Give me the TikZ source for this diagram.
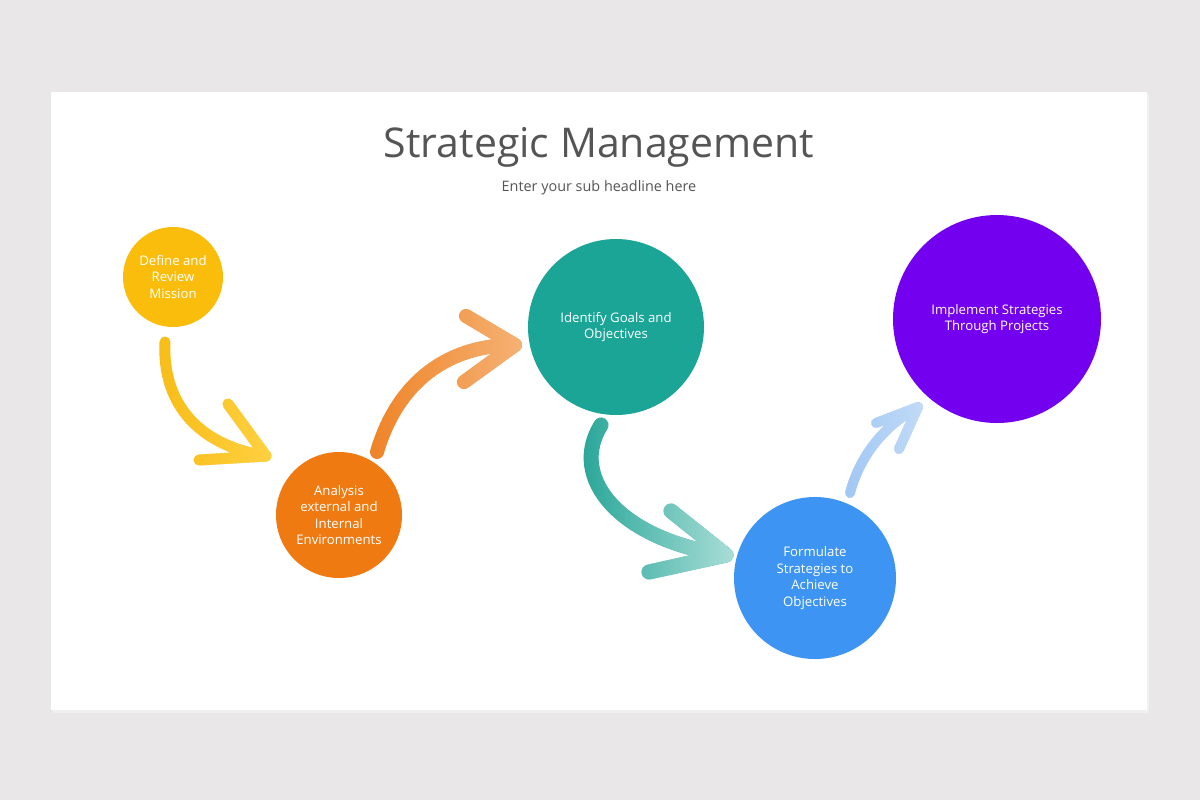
\documentclass[tikz,border=0pt]{standalone}
\usepackage{fontspec}
\setmainfont{Open Sans}
\usetikzlibrary{calc,fadings}
\definecolor{pagebg}{HTML}{E9E7E8}
\definecolor{titlegrey}{HTML}{555555}
\definecolor{missionC}{HTML}{FBBD0B}
\definecolor{analysisC}{HTML}{F07A12}
\definecolor{goalsC}{HTML}{1AA596}
\definecolor{strategiesC}{HTML}{3D94F2}
\definecolor{implementC}{HTML}{7300EF}
\definecolor{yelA}{HTML}{F8BD17}
\definecolor{yelB}{HTML}{FFD141}
\definecolor{oraA}{HTML}{EF8427}
\definecolor{oraB}{HTML}{F6B275}
\definecolor{tealA}{HTML}{189F91}
\definecolor{tealB}{HTML}{A9DED7}
\definecolor{bluA}{HTML}{A2C8F4}
\definecolor{bluB}{HTML}{C2DBF8}
\tikzfading[name=fadeR, left color=transparent!100, right color=transparent!0]
\tikzset{
	stage/.style={circle, inner sep=0pt, align=center, text=white, font=\fontsize{6.6}{8.3}\selectfont},
	brush/.style={line cap=round, line join=round, line width=#1},
	brushfade/.style={path fading=fadeR, fit fading=true},
}

\begin{document}
\begin{tikzpicture}[x=0.5pt, y=-0.5pt]
	\useasboundingbox (0,0) rectangle (1200,800);
	\fill[pagebg] (0,0) rectangle (1200,800);
	\fill[black!6] (53,94) rectangle (1149,713);
	\fill[white] (51,92) rectangle (1147,710);

	\node[text=titlegrey, anchor=base, font=\fontsize{20.5}{24}\selectfont] (title) at (599,157) {Strategic Management};
	\node[text=titlegrey, anchor=base, font=\fontsize{7.2}{9}\selectfont] (subtitle) at (599,191) {Enter your sub headline here};

	\node[stage, fill=missionC, minimum size=50pt] (mission) at (173,277) {Define and\\Review\\Mission};
	\node[stage, fill=analysisC, minimum size=63pt] (analysis) at (339,515) {Analysis\\external and\\Internal\\Environments};
	\node[stage, fill=goalsC, minimum size=88pt] (goals) at (616,327) {Identify Goals and\\Objectives};
	\node[stage, fill=strategiesC, minimum size=81pt] (strategies) at (815,578) {Formulate\\Strategies to\\Achieve\\Objectives};
	\node[stage, fill=implementC, minimum size=104pt] (implement) at (997,319) {Implement Strategies\\Through Projects};

	% arrow ends
	\coordinate (y0) at ($(mission)+(-8,65)$);
	\coordinate (y1) at ($(analysis)+(-73,-59)$);
	\coordinate (o0) at ($(analysis)+(38,-63)$);
	\coordinate (o1) at ($(goals)+(-101,18)$);
	\coordinate (t0) at ($(goals)+(-15,98)$);
	\coordinate (t1) at ($(strategies)+(-89,-23)$);
	\coordinate (b0) at ($(strategies)+(35,-85)$);
	\coordinate (b1) at ($(implement)+(-79,88)$);

	\foreach \ca/\cb/\w/\s/\e/\ci/\cj/\ha/\hb in {
		yelA/yelB/5.5pt/y0/y1/{-3,58}/{-71,-11}/{-38,-52}/{-67,4},
		oraA/oraB/7pt/o0/o1/{18,-62}/{-75,0}/{-49,-29}/{-51,37},
		tealA/tealB/7.5pt/t0/t1/{-33,53}/{-106,-15}/{-55,-44}/{-77,17},
		bluA/bluB/5pt/b0/b1/{10,-38}/{-33,18}/{-42,16}/{-19,42}}
	{
		\draw[brush=\w, \ca] (\s) .. controls +(\ci) and +(\cj) .. (\e) ($(\e)+(\ha)$) -- (\e) -- ($(\e)+(\hb)$);
		\draw[brush=\w, \cb, brushfade] (\s) .. controls +(\ci) and +(\cj) .. (\e) ($(\e)+(\ha)$) -- (\e) -- ($(\e)+(\hb)$);
	}
\end{tikzpicture}
\end{document}
